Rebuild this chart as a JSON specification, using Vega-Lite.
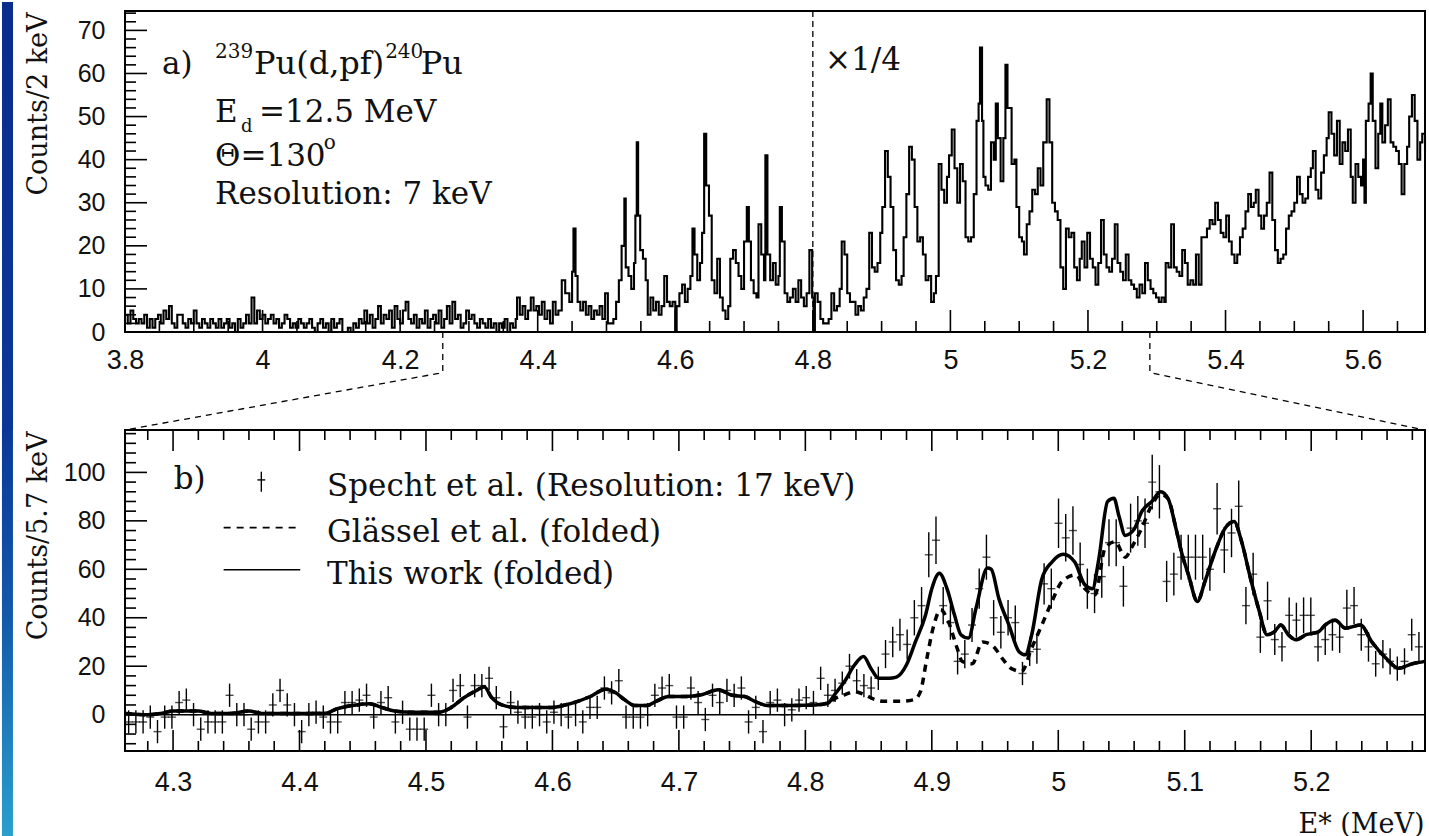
{
  "$schema": "https://vega.github.io/schema/vega-lite/v6.json",
  "background": "white",
  "padding": 0,
  "autosize": {"type": "pad"},
  "config": {
    "font": "DejaVu Serif",
    "view": {"stroke": "black", "strokeWidth": 2},
    "axis": {
      "grid": false, "domain": false, "ticks": false, "tickSize": 0,
      "labelFont": "Liberation Sans", "labelColor": "#111", "labelFlush": false, "labelOverlap": false, "labelBound": false,
      "titleFont": "DejaVu Serif", "titleFontWeight": "normal", "titleColor": "#111"
    },
    "text": {"font": "DejaVu Serif", "color": "#111"}
  },
  "datasets": {
    "topXTicks": [
      {"v":3.8,"a":0,"b":5.1},{"v":4.0,"a":0,"b":5.1},{"v":4.2,"a":0,"b":5.1},{"v":4.4,"a":0,"b":5.1},{"v":4.6,"a":0,"b":5.1},{"v":4.8,"a":0,"b":5.1},{"v":5.0,"a":0,"b":5.1},{"v":5.2,"a":0,"b":5.1},{"v":5.4,"a":0,"b":5.1},{"v":5.6,"a":0,"b":5.1},
      {"v":3.85,"a":0,"b":2.55},{"v":3.9,"a":0,"b":2.55},{"v":3.95,"a":0,"b":2.55},{"v":4.05,"a":0,"b":2.55},{"v":4.1,"a":0,"b":2.55},{"v":4.15,"a":0,"b":2.55},{"v":4.25,"a":0,"b":2.55},{"v":4.3,"a":0,"b":2.55},{"v":4.35,"a":0,"b":2.55},{"v":4.45,"a":0,"b":2.55},
      {"v":4.5,"a":0,"b":2.55},{"v":4.55,"a":0,"b":2.55},{"v":4.65,"a":0,"b":2.55},{"v":4.7,"a":0,"b":2.55},{"v":4.75,"a":0,"b":2.55},{"v":4.85,"a":0,"b":2.55},{"v":4.9,"a":0,"b":2.55},{"v":4.95,"a":0,"b":2.55},{"v":5.05,"a":0,"b":2.55},{"v":5.1,"a":0,"b":2.55},
      {"v":5.15,"a":0,"b":2.55},{"v":5.25,"a":0,"b":2.55},{"v":5.3,"a":0,"b":2.55},{"v":5.35,"a":0,"b":2.55},{"v":5.45,"a":0,"b":2.55},{"v":5.5,"a":0,"b":2.55},{"v":5.55,"a":0,"b":2.55},{"v":5.65,"a":0,"b":2.55}
    ],
    "topYTicks": [
      {"v":10,"a":3.8,"b":3.832},{"v":20,"a":3.8,"b":3.832},{"v":30,"a":3.8,"b":3.832},{"v":40,"a":3.8,"b":3.832},{"v":50,"a":3.8,"b":3.832},{"v":60,"a":3.8,"b":3.832},{"v":70,"a":3.8,"b":3.832},
      {"v":2,"a":3.8,"b":3.816},{"v":4,"a":3.8,"b":3.816},{"v":6,"a":3.8,"b":3.816},{"v":8,"a":3.8,"b":3.816},{"v":12,"a":3.8,"b":3.816},{"v":14,"a":3.8,"b":3.816},{"v":16,"a":3.8,"b":3.816},{"v":18,"a":3.8,"b":3.816},
      {"v":22,"a":3.8,"b":3.816},{"v":24,"a":3.8,"b":3.816},{"v":26,"a":3.8,"b":3.816},{"v":28,"a":3.8,"b":3.816},{"v":32,"a":3.8,"b":3.816},{"v":34,"a":3.8,"b":3.816},{"v":36,"a":3.8,"b":3.816},{"v":38,"a":3.8,"b":3.816},
      {"v":42,"a":3.8,"b":3.816},{"v":44,"a":3.8,"b":3.816},{"v":46,"a":3.8,"b":3.816},{"v":48,"a":3.8,"b":3.816},{"v":52,"a":3.8,"b":3.816},{"v":54,"a":3.8,"b":3.816},{"v":56,"a":3.8,"b":3.816},{"v":58,"a":3.8,"b":3.816},
      {"v":62,"a":3.8,"b":3.816},{"v":64,"a":3.8,"b":3.816},{"v":66,"a":3.8,"b":3.816},{"v":68,"a":3.8,"b":3.816},{"v":72,"a":3.8,"b":3.816},{"v":74,"a":3.8,"b":3.816}
    ],
    "botXTicks": [
      {"v":4.3,"a":-15,"b":-6.33},{"v":4.4,"a":-15,"b":-6.33},{"v":4.5,"a":-15,"b":-6.33},{"v":4.6,"a":-15,"b":-6.33},{"v":4.7,"a":-15,"b":-6.33},{"v":4.8,"a":-15,"b":-6.33},{"v":4.9,"a":-15,"b":-6.33},{"v":5.0,"a":-15,"b":-6.33},{"v":5.1,"a":-15,"b":-6.33},{"v":5.2,"a":-15,"b":-6.33},
      {"v":4.3,"a":117.5,"b":108.83},{"v":4.4,"a":117.5,"b":108.83},{"v":4.5,"a":117.5,"b":108.83},{"v":4.6,"a":117.5,"b":108.83},{"v":4.7,"a":117.5,"b":108.83},{"v":4.8,"a":117.5,"b":108.83},{"v":4.9,"a":117.5,"b":108.83},{"v":5.0,"a":117.5,"b":108.83},{"v":5.1,"a":117.5,"b":108.83},{"v":5.2,"a":117.5,"b":108.83},
      {"v":4.28,"a":-15,"b":-10.87},{"v":4.32,"a":-15,"b":-10.87},{"v":4.34,"a":-15,"b":-10.87},{"v":4.36,"a":-15,"b":-10.87},{"v":4.38,"a":-15,"b":-10.87},{"v":4.42,"a":-15,"b":-10.87},{"v":4.44,"a":-15,"b":-10.87},{"v":4.46,"a":-15,"b":-10.87},{"v":4.48,"a":-15,"b":-10.87},{"v":4.52,"a":-15,"b":-10.87},
      {"v":4.54,"a":-15,"b":-10.87},{"v":4.56,"a":-15,"b":-10.87},{"v":4.58,"a":-15,"b":-10.87},{"v":4.62,"a":-15,"b":-10.87},{"v":4.64,"a":-15,"b":-10.87},{"v":4.66,"a":-15,"b":-10.87},{"v":4.68,"a":-15,"b":-10.87},{"v":4.72,"a":-15,"b":-10.87},{"v":4.74,"a":-15,"b":-10.87},{"v":4.76,"a":-15,"b":-10.87},
      {"v":4.78,"a":-15,"b":-10.87},{"v":4.82,"a":-15,"b":-10.87},{"v":4.84,"a":-15,"b":-10.87},{"v":4.86,"a":-15,"b":-10.87},{"v":4.88,"a":-15,"b":-10.87},{"v":4.92,"a":-15,"b":-10.87},{"v":4.94,"a":-15,"b":-10.87},{"v":4.96,"a":-15,"b":-10.87},{"v":4.98,"a":-15,"b":-10.87},{"v":5.02,"a":-15,"b":-10.87},
      {"v":5.04,"a":-15,"b":-10.87},{"v":5.06,"a":-15,"b":-10.87},{"v":5.08,"a":-15,"b":-10.87},{"v":5.12,"a":-15,"b":-10.87},{"v":5.14,"a":-15,"b":-10.87},{"v":5.16,"a":-15,"b":-10.87},{"v":5.18,"a":-15,"b":-10.87},{"v":5.22,"a":-15,"b":-10.87},{"v":5.24,"a":-15,"b":-10.87},{"v":5.26,"a":-15,"b":-10.87},{"v":5.28,"a":-15,"b":-10.87},
      {"v":4.28,"a":117.5,"b":113.37},{"v":4.32,"a":117.5,"b":113.37},{"v":4.34,"a":117.5,"b":113.37},{"v":4.36,"a":117.5,"b":113.37},{"v":4.38,"a":117.5,"b":113.37},{"v":4.42,"a":117.5,"b":113.37},{"v":4.44,"a":117.5,"b":113.37},{"v":4.46,"a":117.5,"b":113.37},{"v":4.48,"a":117.5,"b":113.37},{"v":4.52,"a":117.5,"b":113.37},
      {"v":4.54,"a":117.5,"b":113.37},{"v":4.56,"a":117.5,"b":113.37},{"v":4.58,"a":117.5,"b":113.37},{"v":4.62,"a":117.5,"b":113.37},{"v":4.64,"a":117.5,"b":113.37},{"v":4.66,"a":117.5,"b":113.37},{"v":4.68,"a":117.5,"b":113.37},{"v":4.72,"a":117.5,"b":113.37},{"v":4.74,"a":117.5,"b":113.37},{"v":4.76,"a":117.5,"b":113.37},
      {"v":4.78,"a":117.5,"b":113.37},{"v":4.82,"a":117.5,"b":113.37},{"v":4.84,"a":117.5,"b":113.37},{"v":4.86,"a":117.5,"b":113.37},{"v":4.88,"a":117.5,"b":113.37},{"v":4.92,"a":117.5,"b":113.37},{"v":4.94,"a":117.5,"b":113.37},{"v":4.96,"a":117.5,"b":113.37},{"v":4.98,"a":117.5,"b":113.37},{"v":5.02,"a":117.5,"b":113.37},
      {"v":5.04,"a":117.5,"b":113.37},{"v":5.06,"a":117.5,"b":113.37},{"v":5.08,"a":117.5,"b":113.37},{"v":5.12,"a":117.5,"b":113.37},{"v":5.14,"a":117.5,"b":113.37},{"v":5.16,"a":117.5,"b":113.37},{"v":5.18,"a":117.5,"b":113.37},{"v":5.22,"a":117.5,"b":113.37},{"v":5.24,"a":117.5,"b":113.37},{"v":5.26,"a":117.5,"b":113.37},{"v":5.28,"a":117.5,"b":113.37}
    ],
    "botYTicks": [
      {"v":0,"a":4.262,"b":4.2794},{"v":20,"a":4.262,"b":4.2794},{"v":40,"a":4.262,"b":4.2794},{"v":60,"a":4.262,"b":4.2794},{"v":80,"a":4.262,"b":4.2794},{"v":100,"a":4.262,"b":4.2794},
      {"v":-12,"a":4.262,"b":4.2707},{"v":-8,"a":4.262,"b":4.2707},{"v":-4,"a":4.262,"b":4.2707},{"v":4,"a":4.262,"b":4.2707},{"v":8,"a":4.262,"b":4.2707},{"v":12,"a":4.262,"b":4.2707},{"v":16,"a":4.262,"b":4.2707},
      {"v":24,"a":4.262,"b":4.2707},{"v":28,"a":4.262,"b":4.2707},{"v":32,"a":4.262,"b":4.2707},{"v":36,"a":4.262,"b":4.2707},{"v":44,"a":4.262,"b":4.2707},{"v":48,"a":4.262,"b":4.2707},{"v":52,"a":4.262,"b":4.2707},
      {"v":56,"a":4.262,"b":4.2707},{"v":64,"a":4.262,"b":4.2707},{"v":68,"a":4.262,"b":4.2707},{"v":72,"a":4.262,"b":4.2707},{"v":76,"a":4.262,"b":4.2707},{"v":84,"a":4.262,"b":4.2707},{"v":88,"a":4.262,"b":4.2707},
      {"v":92,"a":4.262,"b":4.2707},{"v":96,"a":4.262,"b":4.2707},{"v":104,"a":4.262,"b":4.2707},{"v":108,"a":4.262,"b":4.2707},{"v":112,"a":4.262,"b":4.2707},{"v":116,"a":4.262,"b":4.2707}
    ],
    "hist": [
      {"e":3.800,"c":4},{"e":3.804,"c":2},{"e":3.808,"c":5},{"e":3.812,"c":3},{"e":3.816,"c":2},{"e":3.820,"c":3},{"e":3.824,"c":2},{"e":3.828,"c":4},{"e":3.832,"c":1},{"e":3.836,"c":3},
      {"e":3.840,"c":1},{"e":3.844,"c":3},{"e":3.848,"c":4},{"e":3.852,"c":2},{"e":3.856,"c":5},{"e":3.860,"c":3},{"e":3.864,"c":6},{"e":3.868,"c":2},{"e":3.872,"c":1},{"e":3.876,"c":4},
      {"e":3.880,"c":4},{"e":3.884,"c":2},{"e":3.888,"c":1},{"e":3.892,"c":3},{"e":3.896,"c":2},{"e":3.900,"c":5},{"e":3.904,"c":2},{"e":3.908,"c":1},{"e":3.912,"c":3},{"e":3.916,"c":2},
      {"e":3.920,"c":1},{"e":3.924,"c":3},{"e":3.928,"c":2},{"e":3.932,"c":1},{"e":3.936,"c":3},{"e":3.940,"c":1},{"e":3.944,"c":2},{"e":3.948,"c":3},{"e":3.952,"c":1},{"e":3.956,"c":2},
      {"e":3.960,"c":0},{"e":3.964,"c":3},{"e":3.968,"c":1},{"e":3.972,"c":2},{"e":3.976,"c":4},{"e":3.980,"c":2},{"e":3.984,"c":8},{"e":3.988,"c":2},{"e":3.992,"c":5},{"e":3.996,"c":3},
      {"e":4.000,"c":4},{"e":4.004,"c":2},{"e":4.008,"c":3},{"e":4.012,"c":4},{"e":4.016,"c":2},{"e":4.020,"c":3},{"e":4.024,"c":1},{"e":4.028,"c":2},{"e":4.032,"c":4},{"e":4.036,"c":3},
      {"e":4.040,"c":1},{"e":4.044,"c":2},{"e":4.048,"c":1},{"e":4.052,"c":3},{"e":4.056,"c":2},{"e":4.060,"c":1},{"e":4.064,"c":2},{"e":4.068,"c":3},{"e":4.072,"c":1},{"e":4.076,"c":0},
      {"e":4.080,"c":2},{"e":4.084,"c":3},{"e":4.088,"c":1},{"e":4.092,"c":2},{"e":4.096,"c":0},{"e":4.100,"c":3},{"e":4.104,"c":1},{"e":4.108,"c":2},{"e":4.112,"c":3},{"e":4.116,"c":0},
      {"e":4.120,"c":0},{"e":4.124,"c":1},{"e":4.128,"c":0},{"e":4.132,"c":2},{"e":4.136,"c":1},{"e":4.140,"c":3},{"e":4.144,"c":2},{"e":4.148,"c":5},{"e":4.152,"c":2},{"e":4.156,"c":4},
      {"e":4.160,"c":1},{"e":4.164,"c":3},{"e":4.168,"c":6},{"e":4.172,"c":2},{"e":4.176,"c":4},{"e":4.180,"c":3},{"e":4.184,"c":5},{"e":4.188,"c":1},{"e":4.192,"c":6},{"e":4.196,"c":3},
      {"e":4.200,"c":2},{"e":4.204,"c":5},{"e":4.208,"c":7},{"e":4.212,"c":3},{"e":4.216,"c":2},{"e":4.220,"c":4},{"e":4.224,"c":1},{"e":4.228,"c":3},{"e":4.232,"c":2},{"e":4.236,"c":5},
      {"e":4.240,"c":1},{"e":4.244,"c":3},{"e":4.248,"c":4},{"e":4.252,"c":2},{"e":4.256,"c":5},{"e":4.260,"c":1},{"e":4.264,"c":3},{"e":4.268,"c":6},{"e":4.272,"c":2},{"e":4.276,"c":7},
      {"e":4.280,"c":3},{"e":4.284,"c":4},{"e":4.288,"c":1},{"e":4.292,"c":2},{"e":4.296,"c":5},{"e":4.300,"c":3},{"e":4.304,"c":4},{"e":4.308,"c":2},{"e":4.312,"c":1},{"e":4.316,"c":3},
      {"e":4.320,"c":2},{"e":4.324,"c":1},{"e":4.328,"c":3},{"e":4.332,"c":1},{"e":4.336,"c":2},{"e":4.340,"c":0},{"e":4.344,"c":2},{"e":4.348,"c":1},{"e":4.352,"c":3},{"e":4.356,"c":0},
      {"e":4.360,"c":2},{"e":4.364,"c":1},{"e":4.368,"c":3},{"e":4.370,"c":8},{"e":4.374,"c":4},{"e":4.378,"c":6},{"e":4.382,"c":3},{"e":4.386,"c":5},{"e":4.390,"c":8},{"e":4.394,"c":5},
      {"e":4.398,"c":6},{"e":4.402,"c":4},{"e":4.406,"c":7},{"e":4.410,"c":3},{"e":4.414,"c":5},{"e":4.418,"c":2},{"e":4.422,"c":7},{"e":4.426,"c":4},{"e":4.430,"c":5},{"e":4.435,"c":12},
      {"e":4.440,"c":9},{"e":4.446,"c":7},{"e":4.450,"c":14},{"e":4.452,"c":24},{"e":4.455,"c":13},{"e":4.458,"c":7},{"e":4.462,"c":5},{"e":4.466,"c":7},{"e":4.470,"c":4},{"e":4.474,"c":6},
      {"e":4.478,"c":3},{"e":4.482,"c":5},{"e":4.486,"c":4},{"e":4.490,"c":6},{"e":4.494,"c":3},{"e":4.498,"c":9},{"e":4.502,"c":2},{"e":4.506,"c":2},{"e":4.510,"c":3},{"e":4.514,"c":7},
      {"e":4.518,"c":12},{"e":4.522,"c":20},{"e":4.526,"c":31},{"e":4.528,"c":15},{"e":4.532,"c":13},{"e":4.536,"c":10},{"e":4.540,"c":16},{"e":4.542,"c":27},{"e":4.544,"c":44},{"e":4.546,"c":27},
      {"e":4.549,"c":19},{"e":4.553,"c":17},{"e":4.557,"c":12},{"e":4.560,"c":4},{"e":4.564,"c":8},{"e":4.568,"c":5},{"e":4.572,"c":7},{"e":4.576,"c":4},{"e":4.580,"c":6},{"e":4.584,"c":13},
      {"e":4.588,"c":7},{"e":4.592,"c":6},{"e":4.596,"c":7},{"e":4.600,"c":0},{"e":4.602,"c":6},{"e":4.606,"c":9},{"e":4.610,"c":11},{"e":4.614,"c":7},{"e":4.618,"c":10},{"e":4.622,"c":13},
      {"e":4.625,"c":24},{"e":4.628,"c":18},{"e":4.632,"c":12},{"e":4.636,"c":16},{"e":4.639,"c":23},{"e":4.642,"c":46},{"e":4.645,"c":34},{"e":4.649,"c":27},{"e":4.653,"c":12},{"e":4.657,"c":9},
      {"e":4.661,"c":17},{"e":4.665,"c":8},{"e":4.669,"c":5},{"e":4.673,"c":3},{"e":4.677,"c":6},{"e":4.680,"c":17},{"e":4.684,"c":19},{"e":4.688,"c":16},{"e":4.692,"c":13},{"e":4.696,"c":10},
      {"e":4.700,"c":21},{"e":4.704,"c":29},{"e":4.707,"c":21},{"e":4.710,"c":12},{"e":4.714,"c":9},{"e":4.718,"c":8},{"e":4.721,"c":25},{"e":4.725,"c":18},{"e":4.729,"c":12},{"e":4.731,"c":41},
      {"e":4.734,"c":18},{"e":4.738,"c":12},{"e":4.742,"c":16},{"e":4.746,"c":11},{"e":4.750,"c":13},{"e":4.752,"c":29},{"e":4.755,"c":21},{"e":4.759,"c":9},{"e":4.763,"c":7},{"e":4.767,"c":8},
      {"e":4.771,"c":10},{"e":4.775,"c":7},{"e":4.779,"c":12},{"e":4.783,"c":8},{"e":4.787,"c":6},{"e":4.791,"c":9},{"e":4.795,"c":19},{"e":4.799,"c":8},{"e":4.801,"c":0},{"e":4.803,"c":9},
      {"e":4.807,"c":7},{"e":4.811,"c":3},{"e":4.815,"c":2},{"e":4.819,"c":2},{"e":4.823,"c":3},{"e":4.827,"c":9},{"e":4.831,"c":5},{"e":4.835,"c":6},{"e":4.839,"c":10},{"e":4.842,"c":21},
      {"e":4.846,"c":18},{"e":4.850,"c":9},{"e":4.854,"c":7},{"e":4.858,"c":7},{"e":4.862,"c":4},{"e":4.866,"c":6},{"e":4.870,"c":5},{"e":4.874,"c":8},{"e":4.878,"c":10},{"e":4.882,"c":23},
      {"e":4.886,"c":15},{"e":4.890,"c":14},{"e":4.894,"c":16},{"e":4.898,"c":23},{"e":4.901,"c":29},{"e":4.905,"c":42},{"e":4.909,"c":36},{"e":4.913,"c":29},{"e":4.917,"c":19},{"e":4.921,"c":12},
      {"e":4.925,"c":11},{"e":4.929,"c":13},{"e":4.932,"c":22},{"e":4.936,"c":32},{"e":4.940,"c":43},{"e":4.944,"c":40},{"e":4.948,"c":29},{"e":4.952,"c":21},{"e":4.956,"c":22},{"e":4.960,"c":18},
      {"e":4.964,"c":12},{"e":4.968,"c":13},{"e":4.972,"c":7},{"e":4.976,"c":9},{"e":4.979,"c":13},{"e":4.983,"c":39},{"e":4.987,"c":33},{"e":4.991,"c":30},{"e":4.995,"c":36},{"e":4.998,"c":41},
      {"e":5.002,"c":47},{"e":5.006,"c":38},{"e":5.010,"c":30},{"e":5.014,"c":39},{"e":5.018,"c":35},{"e":5.022,"c":22},{"e":5.026,"c":21},{"e":5.030,"c":22},{"e":5.034,"c":32},{"e":5.038,"c":49},
      {"e":5.041,"c":53},{"e":5.043,"c":66},{"e":5.046,"c":49},{"e":5.048,"c":36},{"e":5.051,"c":34},{"e":5.055,"c":33},{"e":5.059,"c":44},{"e":5.063,"c":40},{"e":5.066,"c":53},{"e":5.069,"c":45},
      {"e":5.073,"c":35},{"e":5.077,"c":45},{"e":5.080,"c":62},{"e":5.083,"c":52},{"e":5.086,"c":52},{"e":5.089,"c":39},{"e":5.093,"c":40},{"e":5.096,"c":29},{"e":5.100,"c":22},{"e":5.104,"c":21},
      {"e":5.107,"c":18},{"e":5.111,"c":25},{"e":5.115,"c":28},{"e":5.119,"c":33},{"e":5.123,"c":32},{"e":5.127,"c":38},{"e":5.131,"c":34},{"e":5.135,"c":44},{"e":5.140,"c":54},{"e":5.144,"c":44},
      {"e":5.148,"c":30},{"e":5.152,"c":28},{"e":5.156,"c":26},{"e":5.160,"c":15},{"e":5.164,"c":10},{"e":5.168,"c":24},{"e":5.172,"c":22},{"e":5.176,"c":23},{"e":5.180,"c":15},{"e":5.184,"c":12},
      {"e":5.188,"c":17},{"e":5.191,"c":21},{"e":5.195,"c":15},{"e":5.199,"c":23},{"e":5.203,"c":17},{"e":5.207,"c":15},{"e":5.211,"c":11},{"e":5.215,"c":16},{"e":5.219,"c":26},{"e":5.223,"c":18},
      {"e":5.227,"c":15},{"e":5.231,"c":14},{"e":5.235,"c":17},{"e":5.239,"c":25},{"e":5.243,"c":16},{"e":5.247,"c":14},{"e":5.251,"c":12},{"e":5.255,"c":18},{"e":5.259,"c":12},{"e":5.263,"c":11},
      {"e":5.267,"c":10},{"e":5.271,"c":8},{"e":5.275,"c":11},{"e":5.279,"c":9},{"e":5.283,"c":16},{"e":5.287,"c":12},{"e":5.291,"c":10},{"e":5.295,"c":9},{"e":5.299,"c":8},{"e":5.303,"c":7},
      {"e":5.307,"c":8},{"e":5.311,"c":7},{"e":5.313,"c":16},{"e":5.317,"c":15},{"e":5.321,"c":25},{"e":5.325,"c":15},{"e":5.329,"c":14},{"e":5.333,"c":13},{"e":5.337,"c":19},{"e":5.341,"c":16},
      {"e":5.345,"c":11},{"e":5.349,"c":12},{"e":5.353,"c":11},{"e":5.357,"c":18},{"e":5.361,"c":11},{"e":5.365,"c":22},{"e":5.369,"c":22},{"e":5.373,"c":24},{"e":5.377,"c":26},{"e":5.381,"c":25},
      {"e":5.385,"c":30},{"e":5.389,"c":26},{"e":5.393,"c":23},{"e":5.397,"c":22},{"e":5.401,"c":27},{"e":5.405,"c":21},{"e":5.409,"c":18},{"e":5.413,"c":16},{"e":5.417,"c":18},{"e":5.421,"c":22},
      {"e":5.425,"c":24},{"e":5.429,"c":28},{"e":5.433,"c":32},{"e":5.437,"c":29},{"e":5.441,"c":30},{"e":5.444,"c":33},{"e":5.448,"c":27},{"e":5.452,"c":24},{"e":5.456,"c":27},{"e":5.460,"c":30},
      {"e":5.464,"c":37},{"e":5.468,"c":26},{"e":5.472,"c":19},{"e":5.476,"c":16},{"e":5.480,"c":17},{"e":5.484,"c":18},{"e":5.488,"c":24},{"e":5.492,"c":27},{"e":5.496,"c":28},{"e":5.500,"c":30},
      {"e":5.504,"c":36},{"e":5.508,"c":32},{"e":5.512,"c":30},{"e":5.516,"c":31},{"e":5.520,"c":36},{"e":5.524,"c":38},{"e":5.527,"c":42},{"e":5.531,"c":33},{"e":5.535,"c":31},{"e":5.539,"c":37},
      {"e":5.543,"c":41},{"e":5.547,"c":45},{"e":5.550,"c":51},{"e":5.554,"c":46},{"e":5.558,"c":41},{"e":5.562,"c":49},{"e":5.566,"c":39},{"e":5.570,"c":44},{"e":5.574,"c":42},{"e":5.578,"c":47},
      {"e":5.582,"c":36},{"e":5.585,"c":30},{"e":5.589,"c":39},{"e":5.593,"c":36},{"e":5.597,"c":34},{"e":5.600,"c":40},{"e":5.602,"c":30},{"e":5.604,"c":49},{"e":5.608,"c":53},{"e":5.611,"c":60},
      {"e":5.614,"c":49},{"e":5.618,"c":38},{"e":5.622,"c":46},{"e":5.625,"c":53},{"e":5.628,"c":44},{"e":5.632,"c":48},{"e":5.636,"c":54},{"e":5.640,"c":44},{"e":5.644,"c":43},{"e":5.648,"c":42},
      {"e":5.652,"c":39},{"e":5.656,"c":32},{"e":5.660,"c":39},{"e":5.664,"c":43},{"e":5.667,"c":50},{"e":5.671,"c":55},{"e":5.675,"c":49},{"e":5.679,"c":40},{"e":5.683,"c":44},{"e":5.686,"c":46},
      {"e":5.690,"c":42}
    ],
    "specht": [
      {"e":4.2649,"c":-3,"err":4.8},{"e":4.2706,"c":-3,"err":4.8},{"e":4.2763,"c":-3,"err":4.8},{"e":4.2820,"c":-1,"err":4.8},{"e":4.2877,"c":-7,"err":4.8},
      {"e":4.2934,"c":-1,"err":4.8},{"e":4.2991,"c":-1,"err":4.8},{"e":4.3048,"c":5,"err":4.8},{"e":4.3105,"c":6,"err":4.8},{"e":4.3162,"c":0,"err":4.8},
      {"e":4.3219,"c":-6,"err":4.8},{"e":4.3276,"c":-3,"err":4.8},{"e":4.3333,"c":-3,"err":4.8},{"e":4.3390,"c":-3,"err":4.8},{"e":4.3447,"c":8,"err":4.8},
      {"e":4.3504,"c":0,"err":4.8},{"e":4.3561,"c":0,"err":4.8},{"e":4.3618,"c":-6,"err":4.8},{"e":4.3675,"c":-3,"err":4.8},{"e":4.3732,"c":-3,"err":4.8},
      {"e":4.3789,"c":4,"err":4.8},{"e":4.3846,"c":10,"err":4.8},{"e":4.3903,"c":4,"err":4.8},{"e":4.3960,"c":0,"err":4.8},{"e":4.4017,"c":-7,"err":4.8},
      {"e":4.4074,"c":0,"err":4.8},{"e":4.4131,"c":1,"err":4.8},{"e":4.4188,"c":-1,"err":4.8},{"e":4.4245,"c":-3,"err":4.8},{"e":4.4302,"c":-3,"err":4.8},
      {"e":4.4359,"c":5,"err":4.8},{"e":4.4416,"c":5,"err":4.8},{"e":4.4473,"c":6,"err":4.8},{"e":4.4530,"c":8,"err":4.8},{"e":4.4587,"c":-1,"err":4.8},
      {"e":4.4644,"c":5,"err":4.8},{"e":4.4701,"c":7,"err":4.8},{"e":4.4758,"c":-3,"err":4.8},{"e":4.4815,"c":1,"err":4.8},{"e":4.4872,"c":-6,"err":4.8},
      {"e":4.4929,"c":-6,"err":4.8},{"e":4.4986,"c":-6,"err":4.8},{"e":4.5043,"c":8,"err":4.8},{"e":4.5100,"c":0,"err":4.8},{"e":4.5157,"c":0,"err":4.8},
      {"e":4.5214,"c":10,"err":4.8},{"e":4.5271,"c":12,"err":4.8},{"e":4.5328,"c":-1,"err":4.8},{"e":4.5385,"c":12,"err":4.8},{"e":4.5442,"c":12,"err":4.8},
      {"e":4.5499,"c":15,"err":4.8},{"e":4.5556,"c":7,"err":4.8},{"e":4.5613,"c":-5,"err":4.8},{"e":4.5670,"c":5,"err":4.8},{"e":4.5727,"c":1,"err":4.8},
      {"e":4.5784,"c":-1,"err":4.8},{"e":4.5841,"c":-1,"err":4.8},{"e":4.5898,"c":0,"err":4.8},{"e":4.5955,"c":-3,"err":4.8},{"e":4.6012,"c":1,"err":4.8},
      {"e":4.6069,"c":0,"err":4.8},{"e":4.6126,"c":-1,"err":4.8},{"e":4.6183,"c":0,"err":4.8},{"e":4.6240,"c":-3,"err":4.8},{"e":4.6297,"c":3,"err":4.8},
      {"e":4.6354,"c":3,"err":4.8},{"e":4.6411,"c":11,"err":4.8},{"e":4.6468,"c":9,"err":4.8},{"e":4.6525,"c":14,"err":4.8},{"e":4.6582,"c":-1,"err":4.8},
      {"e":4.6639,"c":-1,"err":4.8},{"e":4.6696,"c":-1,"err":4.8},{"e":4.6753,"c":0,"err":4.8},{"e":4.6810,"c":8,"err":4.8},{"e":4.6867,"c":11,"err":4.8},
      {"e":4.6924,"c":12,"err":4.8},{"e":4.6981,"c":-1,"err":4.8},{"e":4.7038,"c":-1,"err":4.8},{"e":4.7095,"c":11,"err":4.8},{"e":4.7152,"c":5,"err":4.8},
      {"e":4.7209,"c":-2,"err":4.8},{"e":4.7266,"c":8,"err":4.8},{"e":4.7323,"c":5,"err":4.8},{"e":4.7380,"c":10,"err":4.8},{"e":4.7437,"c":8,"err":4.8},
      {"e":4.7494,"c":11,"err":4.8},{"e":4.7551,"c":-3,"err":4.8},{"e":4.7608,"c":3,"err":4.8},{"e":4.7665,"c":-7,"err":4.8},{"e":4.7722,"c":5,"err":4.8},
      {"e":4.7779,"c":6,"err":4.8},{"e":4.7836,"c":0,"err":4.8},{"e":4.7893,"c":2,"err":4.8},{"e":4.7950,"c":6,"err":4.8},{"e":4.8007,"c":7,"err":4.8},
      {"e":4.8064,"c":5,"err":4.8},{"e":4.8121,"c":15,"err":4.8},{"e":4.8178,"c":8,"err":4.8},{"e":4.8235,"c":10,"err":4.8},{"e":4.8292,"c":13,"err":4.8},
      {"e":4.8349,"c":20,"err":5.1},{"e":4.8406,"c":14,"err":4.8},{"e":4.8463,"c":12,"err":4.8},{"e":4.8520,"c":11,"err":4.8},{"e":4.8577,"c":15,"err":4.8},
      {"e":4.8634,"c":25,"err":5.8},{"e":4.8691,"c":30,"err":6.3},{"e":4.8748,"c":33,"err":6.6},{"e":4.8805,"c":29,"err":6.2},{"e":4.8862,"c":40,"err":7.3},
      {"e":4.8919,"c":45,"err":7.7},{"e":4.8976,"c":66,"err":9.3},{"e":4.9033,"c":72,"err":9.8},{"e":4.9090,"c":45,"err":7.7},{"e":4.9147,"c":38,"err":7.1},
      {"e":4.9204,"c":22,"err":5.4},{"e":4.9261,"c":25,"err":5.8},{"e":4.9318,"c":37,"err":7.0},{"e":4.9375,"c":52,"err":8.3},{"e":4.9432,"c":65,"err":9.3},
      {"e":4.9489,"c":40,"err":7.3},{"e":4.9546,"c":34,"err":6.7},{"e":4.9603,"c":40,"err":7.3},{"e":4.9660,"c":38,"err":7.1},{"e":4.9717,"c":17,"err":4.8},
      {"e":4.9774,"c":26,"err":5.9},{"e":4.9831,"c":27,"err":6.0},{"e":4.9888,"c":54,"err":8.5},{"e":4.9945,"c":52,"err":8.3},{"e":5.0002,"c":79,"err":10.2},
      {"e":5.0059,"c":73,"err":9.8},{"e":5.0116,"c":76,"err":10.0},{"e":5.0173,"c":62,"err":9.1},{"e":5.0230,"c":52,"err":8.3},{"e":5.0287,"c":50,"err":8.1},
      {"e":5.0344,"c":57,"err":8.7},{"e":5.0401,"c":71,"err":9.7},{"e":5.0458,"c":71,"err":9.7},{"e":5.0515,"c":53,"err":8.4},{"e":5.0572,"c":77,"err":10.1},
      {"e":5.0629,"c":80,"err":10.3},{"e":5.0686,"c":79,"err":10.2},{"e":5.0743,"c":96,"err":11.3},{"e":5.0800,"c":92,"err":11.0},{"e":5.0857,"c":55,"err":8.5},
      {"e":5.0914,"c":58,"err":8.8},{"e":5.0971,"c":65,"err":9.3},{"e":5.1028,"c":65,"err":9.3},{"e":5.1085,"c":65,"err":9.3},{"e":5.1142,"c":65,"err":9.3},
      {"e":5.1199,"c":60,"err":8.9},{"e":5.1256,"c":85,"err":10.6},{"e":5.1313,"c":68,"err":9.5},{"e":5.1370,"c":75,"err":10.0},{"e":5.1427,"c":86,"err":10.7},
      {"e":5.1484,"c":45,"err":7.7},{"e":5.1541,"c":58,"err":8.8},{"e":5.1598,"c":32,"err":6.5},{"e":5.1655,"c":47,"err":7.9},{"e":5.1712,"c":31,"err":6.4},
      {"e":5.1769,"c":28,"err":6.1},{"e":5.1826,"c":41,"err":7.4},{"e":5.1883,"c":39,"err":7.2},{"e":5.1940,"c":41,"err":7.4},{"e":5.1997,"c":41,"err":7.4},
      {"e":5.2054,"c":28,"err":6.1},{"e":5.2111,"c":31,"err":6.4},{"e":5.2168,"c":33,"err":6.6},{"e":5.2225,"c":32,"err":6.5},{"e":5.2282,"c":44,"err":7.6},
      {"e":5.2339,"c":45,"err":7.7},{"e":5.2396,"c":33,"err":6.6},{"e":5.2453,"c":28,"err":6.1},{"e":5.2510,"c":21,"err":5.3},{"e":5.2567,"c":25,"err":5.8},
      {"e":5.2624,"c":22,"err":5.4},{"e":5.2681,"c":19,"err":5.0},{"e":5.2738,"c":22,"err":5.4},{"e":5.2795,"c":33,"err":6.6},{"e":5.2852,"c":28,"err":6.1}
    ],
    "thiswork": [
      {"e":4.262,"c":0.5},{"e":4.280,"c":0},{"e":4.290,"c":0.5},{"e":4.300,"c":1.5},{"e":4.320,"c":1.5},{"e":4.330,"c":0.5},{"e":4.345,"c":0.5},{"e":4.360,"c":1.5},
      {"e":4.370,"c":0.5},{"e":4.400,"c":0.5},{"e":4.420,"c":0.5},{"e":4.430,"c":2.5},{"e":4.445,"c":4},{"e":4.455,"c":4.5},{"e":4.465,"c":3},{"e":4.475,"c":1.5},
      {"e":4.490,"c":1},{"e":4.510,"c":1},{"e":4.520,"c":3},{"e":4.530,"c":7},{"e":4.540,"c":10},{"e":4.546,"c":11.5},{"e":4.552,"c":7},{"e":4.560,"c":4},
      {"e":4.571,"c":3},{"e":4.600,"c":3},{"e":4.610,"c":4},{"e":4.620,"c":5.5},{"e":4.630,"c":7.5},{"e":4.642,"c":10.5},{"e":4.650,"c":9},{"e":4.657,"c":6.2},
      {"e":4.665,"c":3.8},{"e":4.675,"c":3.8},{"e":4.682,"c":5.5},{"e":4.692,"c":7.5},{"e":4.705,"c":7.5},{"e":4.718,"c":8.2},{"e":4.731,"c":10.3},{"e":4.742,"c":8},
      {"e":4.752,"c":7.5},{"e":4.760,"c":5.5},{"e":4.770,"c":3.8},{"e":4.790,"c":3.8},{"e":4.808,"c":4},{"e":4.818,"c":4.8},{"e":4.823,"c":8.2},{"e":4.831,"c":13.7},
      {"e":4.839,"c":20.6},{"e":4.846,"c":24},{"e":4.852,"c":19},{"e":4.858,"c":15},{"e":4.866,"c":15},{"e":4.872,"c":15.5},{"e":4.880,"c":20.6},{"e":4.887,"c":30},
      {"e":4.895,"c":41},{"e":4.900,"c":52},{"e":4.906,"c":58.4},{"e":4.912,"c":52},{"e":4.918,"c":41},{"e":4.923,"c":33},{"e":4.929,"c":31.6},{"e":4.935,"c":44},
      {"e":4.944,"c":60.5},{"e":4.947,"c":60},{"e":4.953,"c":48},{"e":4.961,"c":37},{"e":4.969,"c":26},{"e":4.974,"c":24.7},{"e":4.979,"c":33},{"e":4.987,"c":56},
      {"e":4.995,"c":63},{"e":5.004,"c":66.2},{"e":5.013,"c":63},{"e":5.021,"c":53.6},{"e":5.027,"c":52},{"e":5.032,"c":64},{"e":5.039,"c":88},{"e":5.044,"c":89.3},
      {"e":5.048,"c":82},{"e":5.053,"c":74},{"e":5.060,"c":76.5},{"e":5.066,"c":83.8},{"e":5.074,"c":88},{"e":5.081,"c":92},{"e":5.087,"c":89},{"e":5.093,"c":77},
      {"e":5.098,"c":66},{"e":5.103,"c":57.7},{"e":5.110,"c":46.7},{"e":5.116,"c":55},{"e":5.124,"c":67.3},{"e":5.132,"c":77},{"e":5.139,"c":79.7},{"e":5.145,"c":71.4},
      {"e":5.152,"c":56.3},{"e":5.159,"c":42.6},{"e":5.165,"c":33},{"e":5.171,"c":34.3},{"e":5.176,"c":37},{"e":5.182,"c":33},{"e":5.188,"c":30.9},{"e":5.196,"c":33},
      {"e":5.206,"c":34.3},{"e":5.211,"c":37},{"e":5.219,"c":39},{"e":5.227,"c":35.7},{"e":5.239,"c":37},{"e":5.248,"c":30},{"e":5.259,"c":23.4},{"e":5.269,"c":19.2},
      {"e":5.280,"c":21},{"e":5.290,"c":22}
    ],
    "glassel": [
      {"e":4.262,"c":0.5},{"e":4.280,"c":0},{"e":4.290,"c":0.5},{"e":4.300,"c":1.5},{"e":4.320,"c":1.5},{"e":4.330,"c":0.5},{"e":4.345,"c":0.5},{"e":4.360,"c":1.5},
      {"e":4.370,"c":0.5},{"e":4.400,"c":0.5},{"e":4.420,"c":0.5},{"e":4.430,"c":2.5},{"e":4.445,"c":4},{"e":4.455,"c":4.5},{"e":4.465,"c":3},{"e":4.475,"c":1.5},
      {"e":4.490,"c":1},{"e":4.510,"c":1},{"e":4.520,"c":3},{"e":4.530,"c":7},{"e":4.540,"c":10},{"e":4.546,"c":11.5},{"e":4.552,"c":7},{"e":4.560,"c":4},
      {"e":4.571,"c":3},{"e":4.600,"c":3},{"e":4.610,"c":4},{"e":4.620,"c":5.5},{"e":4.630,"c":7.5},{"e":4.642,"c":10.5},{"e":4.650,"c":9},{"e":4.657,"c":6.2},
      {"e":4.665,"c":3.8},{"e":4.675,"c":3.8},{"e":4.682,"c":5.5},{"e":4.692,"c":7.5},{"e":4.705,"c":7.5},{"e":4.718,"c":8.2},{"e":4.731,"c":10.3},{"e":4.742,"c":8},
      {"e":4.752,"c":7.5},{"e":4.760,"c":5.5},{"e":4.770,"c":3.8},{"e":4.790,"c":3.8},{"e":4.808,"c":4},{"e":4.818,"c":4.8},{"e":4.823,"c":6.5},{"e":4.831,"c":8.2},
      {"e":4.839,"c":9.5},{"e":4.847,"c":8.2},{"e":4.855,"c":6.2},{"e":4.862,"c":5.5},{"e":4.875,"c":5.5},{"e":4.886,"c":6.2},{"e":4.891,"c":9.5},{"e":4.896,"c":23},
      {"e":4.901,"c":35.7},{"e":4.907,"c":43.3},{"e":4.913,"c":38.5},{"e":4.920,"c":27.5},{"e":4.924,"c":22},{"e":4.932,"c":21},{"e":4.940,"c":30},{"e":4.948,"c":28.5},
      {"e":4.956,"c":23},{"e":4.963,"c":19},{"e":4.971,"c":17.9},{"e":4.979,"c":27.5},{"e":4.987,"c":37},{"e":4.995,"c":46.7},{"e":5.003,"c":55},{"e":5.014,"c":57.7},
      {"e":5.021,"c":52},{"e":5.029,"c":49.5},{"e":5.037,"c":68.7},{"e":5.045,"c":71.4},{"e":5.053,"c":65},{"e":5.058,"c":69},{"e":5.066,"c":77},{"e":5.074,"c":86.6},
      {"e":5.081,"c":91},{"e":5.087,"c":89},{"e":5.093,"c":77},{"e":5.098,"c":66},{"e":5.103,"c":57.7},{"e":5.110,"c":46.7},{"e":5.116,"c":55},{"e":5.124,"c":67.3},
      {"e":5.132,"c":77},{"e":5.139,"c":79.7},{"e":5.145,"c":71.4},{"e":5.152,"c":56.3},{"e":5.159,"c":42.6},{"e":5.165,"c":33},{"e":5.171,"c":34.3},{"e":5.176,"c":37},
      {"e":5.182,"c":33},{"e":5.188,"c":30.9},{"e":5.196,"c":33},{"e":5.206,"c":34.3},{"e":5.211,"c":37},{"e":5.219,"c":39},{"e":5.227,"c":35.7},{"e":5.239,"c":37},
      {"e":5.248,"c":30},{"e":5.259,"c":23.4},{"e":5.269,"c":19.2},{"e":5.280,"c":21},{"e":5.290,"c":22}
    ],
    "zoomlines": [
      {"g":"low","i":0,"e":4.262,"c":0},{"g":"low","i":1,"e":4.262,"c":-9.3},{"g":"low","i":2,"e":4.256,"c":-9.6},{"g":"low","i":3,"e":3.8,"c":-22.75},
      {"g":"high","i":0,"e":5.290,"c":0},{"g":"high","i":1,"e":5.290,"c":-9.3},{"g":"high","i":2,"e":5.295,"c":-9.6},{"g":"high","i":3,"e":5.69,"c":-22.75}
    ]
  },
  "bounds": "flush",
  "spacing": 98,
  "vconcat": [
    {
      "width": 1300,
      "height": 321,
      "resolve": {"axis": {"x": "independent", "y": "independent"}},
      "layer": [
        {
          "data": {"values": [{}]},
          "mark": {"type": "rect", "clip": false, "fill": {"gradient": "linear", "x1": 0, "y1": 0, "x2": 0, "y2": 1, "stops": [{"offset": 0, "color": "#0a2c8c"}, {"offset": 1, "color": "#0b3898"}]}},
          "encoding": {
            "x": {"datum": 3.6212, "type": "quantitative", "axis": null},
            "x2": {"datum": 3.6372},
            "y": {"datum": 76.6, "type": "quantitative", "axis": null},
            "y2": {"datum": -22.75}
          }
        },
        {
          "data": {"name": "hist"},
          "mark": {"type": "line", "interpolate": "step-after", "color": "black", "strokeWidth": 2.1},
          "encoding": {
            "x": {"field": "e", "type": "quantitative", "scale": {"domain": [3.8, 5.69], "nice": false, "zero": false},
                  "axis": {"orient": "bottom", "values": [3.8, 4, 4.2, 4.4, 4.6, 4.8, 5, 5.2, 5.4, 5.6], "format": ".1~f", "labelPadding": 15, "labelFontSize": 27, "title": null}},
            "y": {"field": "c", "type": "quantitative", "scale": {"domain": [0, 74.5], "nice": false, "zero": false},
                  "axis": {"orient": "left", "values": [0, 10, 20, 30, 40, 50, 60, 70], "labelPadding": 20, "labelFontSize": 25,
                           "title": "Counts/2 keV", "titleFontSize": 27, "titleX": -79, "titleY": 1, "titleAlign": "right", "titleBaseline": "alphabetic", "titleAngle": -90}}
          }
        },
        {
          "data": {"name": "topXTicks"},
          "mark": {"type": "rule", "color": "black", "strokeWidth": 1.6},
          "encoding": {
            "x": {"field": "v", "type": "quantitative", "axis": null},
            "y": {"field": "a", "type": "quantitative", "axis": null},
            "y2": {"field": "b"}
          }
        },
        {
          "data": {"name": "topYTicks"},
          "mark": {"type": "rule", "color": "black", "strokeWidth": 1.6},
          "encoding": {
            "y": {"field": "v", "type": "quantitative", "axis": null},
            "x": {"field": "a", "type": "quantitative", "axis": null},
            "x2": {"field": "b"}
          }
        },
        {
          "data": {"values": [{}]},
          "mark": {"type": "rule", "strokeDash": [6, 4], "strokeWidth": 1.3, "color": "black"},
          "encoding": {"x": {"datum": 4.8, "type": "quantitative", "axis": null}}
        },
        {
          "data": {"name": "zoomlines"},
          "mark": {"type": "line", "strokeDash": [6, 5], "strokeWidth": 1.3, "color": "black", "clip": false},
          "encoding": {
            "x": {"field": "e", "type": "quantitative", "axis": null},
            "y": {"field": "c", "type": "quantitative", "axis": null},
            "detail": {"field": "g"},
            "order": {"field": "i"}
          }
        },
        {
          "data": {"values": [{}]},
          "mark": {"type": "text", "align": "left", "baseline": "alphabetic", "fontSize": 31, "text": "a)"},
          "encoding": {"x": {"datum": 3.8538, "type": "quantitative", "axis": null}, "y": {"datum": 59.9, "type": "quantitative", "axis": null}}
        },
        {
          "data": {"values": [{}]},
          "mark": {"type": "text", "align": "left", "baseline": "alphabetic", "fontSize": 20, "text": "239"},
          "encoding": {"x": {"datum": 3.9309, "type": "quantitative", "axis": null}, "y": {"datum": 63.6, "type": "quantitative", "axis": null}}
        },
        {
          "data": {"values": [{}]},
          "mark": {"type": "text", "align": "left", "baseline": "alphabetic", "fontSize": 32, "text": "Pu(d,pf)"},
          "encoding": {"x": {"datum": 3.9876, "type": "quantitative", "axis": null}, "y": {"datum": 59.9, "type": "quantitative", "axis": null}}
        },
        {
          "data": {"values": [{}]},
          "mark": {"type": "text", "align": "left", "baseline": "alphabetic", "fontSize": 20, "text": "240"},
          "encoding": {"x": {"datum": 4.1782, "type": "quantitative", "axis": null}, "y": {"datum": 63.6, "type": "quantitative", "axis": null}}
        },
        {
          "data": {"values": [{}]},
          "mark": {"type": "text", "align": "left", "baseline": "alphabetic", "fontSize": 32, "text": "Pu"},
          "encoding": {"x": {"datum": 4.2301, "type": "quantitative", "axis": null}, "y": {"datum": 59.9, "type": "quantitative", "axis": null}}
        },
        {
          "data": {"values": [{}]},
          "mark": {"type": "text", "align": "left", "baseline": "alphabetic", "fontSize": 31, "text": "E"},
          "encoding": {"x": {"datum": 3.9309, "type": "quantitative", "axis": null}, "y": {"datum": 48.7, "type": "quantitative", "axis": null}}
        },
        {
          "data": {"values": [{}]},
          "mark": {"type": "text", "align": "left", "baseline": "alphabetic", "fontSize": 18, "text": "d"},
          "encoding": {"x": {"datum": 3.9687, "type": "quantitative", "axis": null}, "y": {"datum": 46.4, "type": "quantitative", "axis": null}}
        },
        {
          "data": {"values": [{}]},
          "mark": {"type": "text", "align": "left", "baseline": "alphabetic", "fontSize": 31, "text": "=12.5 MeV"},
          "encoding": {"x": {"datum": 3.9948, "type": "quantitative", "axis": null}, "y": {"datum": 48.7, "type": "quantitative", "axis": null}}
        },
        {
          "data": {"values": [{}]},
          "mark": {"type": "text", "align": "left", "baseline": "alphabetic", "fontSize": 31, "text": "Θ=130"},
          "encoding": {"x": {"datum": 3.9309, "type": "quantitative", "axis": null}, "y": {"datum": 38.5, "type": "quantitative", "axis": null}}
        },
        {
          "data": {"values": [{}]},
          "mark": {"type": "text", "align": "left", "baseline": "alphabetic", "fontSize": 20, "text": "o"},
          "encoding": {"x": {"datum": 4.0890, "type": "quantitative", "axis": null}, "y": {"datum": 42.4, "type": "quantitative", "axis": null}}
        },
        {
          "data": {"values": [{}]},
          "mark": {"type": "text", "align": "left", "baseline": "alphabetic", "fontSize": 31, "text": "Resolution: 7 keV"},
          "encoding": {"x": {"datum": 3.9309, "type": "quantitative", "axis": null}, "y": {"datum": 29.7, "type": "quantitative", "axis": null}}
        },
        {
          "data": {"values": [{}]},
          "mark": {"type": "text", "align": "left", "baseline": "alphabetic", "fontSize": 31, "text": "×1/4"},
          "encoding": {"x": {"datum": 4.8177, "type": "quantitative", "axis": null}, "y": {"datum": 60.8, "type": "quantitative", "axis": null}}
        }
      ]
    },
    {
      "width": 1300,
      "height": 321,
      "resolve": {"axis": {"x": "independent", "y": "independent"}},
      "layer": [
        {
          "data": {"values": [{}]},
          "mark": {"type": "rect", "clip": false, "fill": {"gradient": "linear", "x1": 0, "y1": 0, "x2": 0, "y2": 1, "stops": [{"offset": 0, "color": "#0b3898"}, {"offset": 0.45, "color": "#1358aa"}, {"offset": 1, "color": "#2aa0cd"}]}},
          "encoding": {
            "x": {"datum": 4.1647, "type": "quantitative", "axis": null},
            "x2": {"datum": 4.1734},
            "y": {"datum": 117.5, "type": "quantitative", "axis": null},
            "y2": {"datum": -50.6}
          }
        },
        {
          "data": {"values": [{}]},
          "mark": {"type": "rule", "color": "black", "strokeWidth": 1.5},
          "encoding": {
            "y": {"datum": 0, "type": "quantitative", "scale": {"domain": [-15, 117.5], "nice": false, "zero": false},
                  "axis": {"orient": "left", "values": [0, 20, 40, 60, 80, 100], "labelPadding": 20, "labelFontSize": 25,
                           "title": "Counts/5.7 keV", "titleFontSize": 27, "titleX": -79, "titleY": 1, "titleAlign": "right", "titleBaseline": "alphabetic", "titleAngle": -90}}
          }
        },
        {
          "data": {"name": "specht"},
          "mark": {"type": "errorbar", "ticks": false, "rule": {"strokeWidth": 1.4, "color": "black"}},
          "encoding": {
            "x": {"field": "e", "type": "quantitative", "scale": {"domain": [4.262, 5.29], "nice": false, "zero": false},
                  "axis": {"orient": "bottom", "values": [4.3, 4.4, 4.5, 4.6, 4.7, 4.8, 4.9, 5, 5.1, 5.2], "format": ".1~f", "labelPadding": 18, "labelFontSize": 27,
                           "title": "E* (MeV)", "titleFontSize": 27, "titleX": 1299, "titleY": 81, "titleAlign": "right", "titleBaseline": "alphabetic"}},
            "y": {"field": "c", "type": "quantitative", "scale": {"domain": [-15, 117.5], "nice": false, "zero": false}, "axis": null},
            "yError": {"field": "err"}
          }
        },
        {
          "data": {"name": "botXTicks"},
          "mark": {"type": "rule", "color": "black", "strokeWidth": 1.6},
          "encoding": {
            "x": {"field": "v", "type": "quantitative", "axis": null},
            "y": {"field": "a", "type": "quantitative", "axis": null},
            "y2": {"field": "b"}
          }
        },
        {
          "data": {"name": "botYTicks"},
          "mark": {"type": "rule", "color": "black", "strokeWidth": 1.6},
          "encoding": {
            "y": {"field": "v", "type": "quantitative", "axis": null},
            "x": {"field": "a", "type": "quantitative", "axis": null},
            "x2": {"field": "b"}
          }
        },
        {
          "data": {"name": "specht"},
          "mark": {"type": "tick", "orient": "horizontal", "size": 8, "thickness": 1.4, "color": "black"},
          "encoding": {
            "x": {"field": "e", "type": "quantitative", "axis": null},
            "y": {"field": "c", "type": "quantitative", "axis": null}
          }
        },
        {
          "data": {"name": "glassel"},
          "mark": {"type": "line", "interpolate": "monotone", "color": "black", "strokeWidth": 3.5, "strokeDash": [7, 6]},
          "encoding": {
            "x": {"field": "e", "type": "quantitative", "axis": null},
            "y": {"field": "c", "type": "quantitative", "axis": null}
          }
        },
        {
          "data": {"name": "thiswork"},
          "mark": {"type": "line", "interpolate": "monotone", "color": "black", "strokeWidth": 3.5},
          "encoding": {
            "x": {"field": "e", "type": "quantitative", "axis": null},
            "y": {"field": "c", "type": "quantitative", "axis": null}
          }
        },
        {
          "data": {"values": [{}]},
          "mark": {"type": "rule", "color": "black", "strokeWidth": 1.4},
          "encoding": {"x": {"datum": 4.3698, "type": "quantitative", "axis": null}, "y": {"datum": 100.3, "type": "quantitative", "axis": null}, "y2": {"datum": 92.0}}
        },
        {
          "data": {"values": [{}]},
          "mark": {"type": "rule", "color": "black", "strokeWidth": 1.4},
          "encoding": {"x": {"datum": 4.3667, "type": "quantitative", "axis": null}, "x2": {"datum": 4.3729}, "y": {"datum": 96.9, "type": "quantitative", "axis": null}}
        },
        {
          "data": {"values": [{}]},
          "mark": {"type": "rule", "color": "black", "strokeWidth": 1.6, "strokeDash": [7, 6]},
          "encoding": {"x": {"datum": 4.3400, "type": "quantitative", "axis": null}, "x2": {"datum": 4.3980}, "y": {"datum": 77.2, "type": "quantitative", "axis": null}}
        },
        {
          "data": {"values": [{}]},
          "mark": {"type": "rule", "color": "black", "strokeWidth": 1.6},
          "encoding": {"x": {"datum": 4.3400, "type": "quantitative", "axis": null}, "x2": {"datum": 4.4006}, "y": {"datum": 59.8, "type": "quantitative", "axis": null}}
        },
        {
          "data": {"values": [{}]},
          "mark": {"type": "text", "align": "left", "baseline": "alphabetic", "fontSize": 31, "text": "b)"},
          "encoding": {"x": {"datum": 4.3005, "type": "quantitative", "axis": null}, "y": {"datum": 93.2, "type": "quantitative", "axis": null}}
        },
        {
          "data": {"values": [{}]},
          "mark": {"type": "text", "align": "left", "baseline": "alphabetic", "fontSize": 31, "text": "Specht et al. (Resolution: 17 keV)"},
          "encoding": {"x": {"datum": 4.4217, "type": "quantitative", "axis": null}, "y": {"datum": 90.3, "type": "quantitative", "axis": null}}
        },
        {
          "data": {"values": [{}]},
          "mark": {"type": "text", "align": "left", "baseline": "alphabetic", "fontSize": 31, "text": "Glässel et al. (folded)"},
          "encoding": {"x": {"datum": 4.4217, "type": "quantitative", "axis": null}, "y": {"datum": 71.4, "type": "quantitative", "axis": null}}
        },
        {
          "data": {"values": [{}]},
          "mark": {"type": "text", "align": "left", "baseline": "alphabetic", "fontSize": 31, "text": "This work (folded)"},
          "encoding": {"x": {"datum": 4.4217, "type": "quantitative", "axis": null}, "y": {"datum": 54.0, "type": "quantitative", "axis": null}}
        }
      ]
    }
  ]
}
